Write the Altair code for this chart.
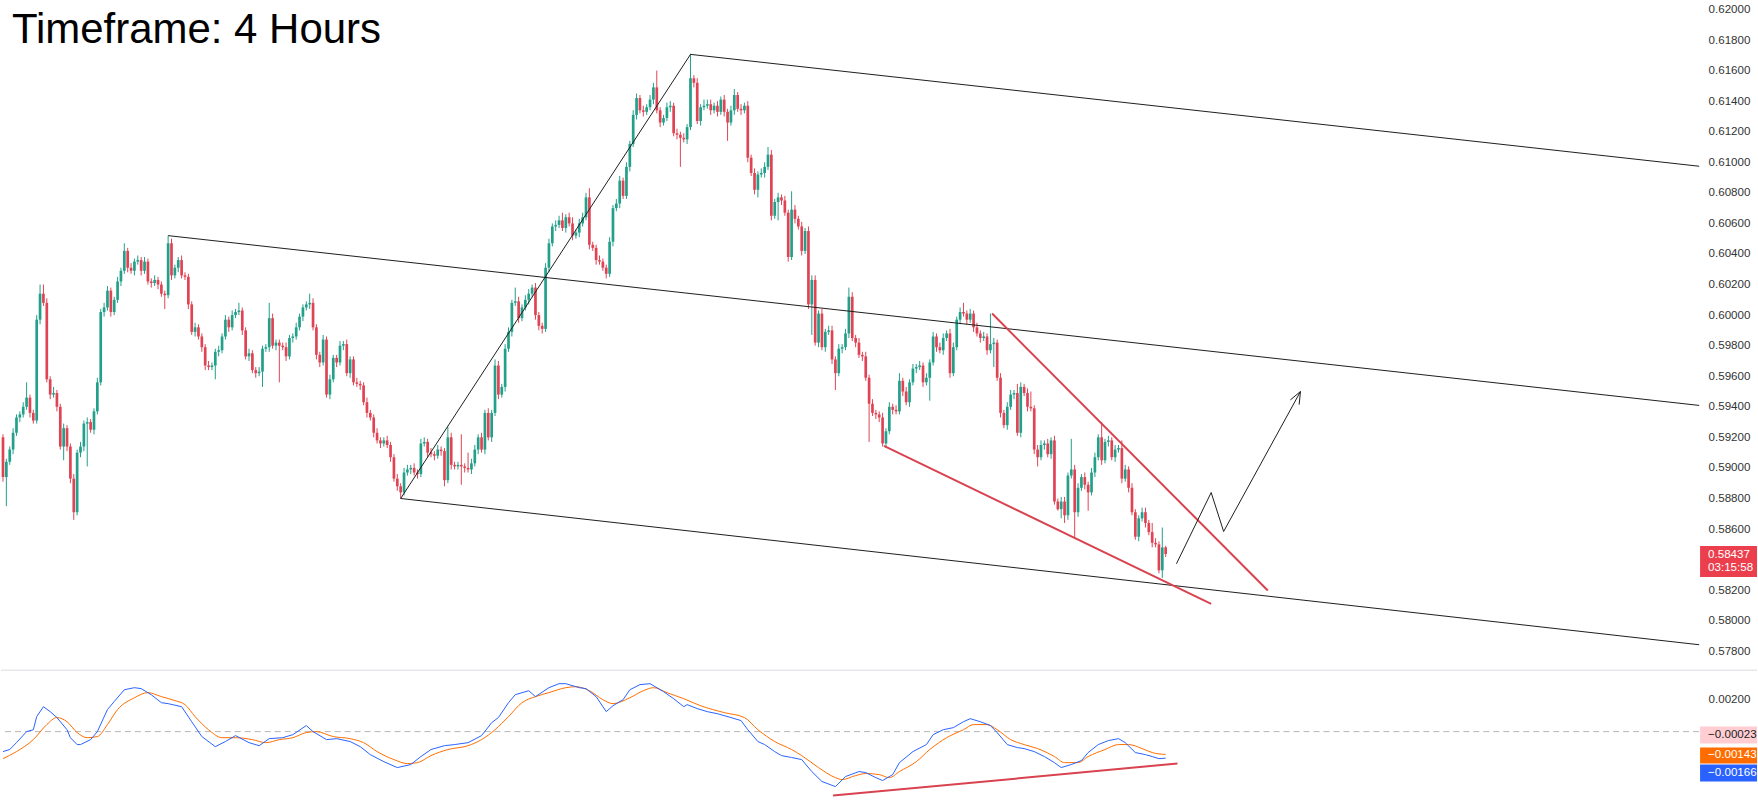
import altair as alt
import pandas as pd

TITLE = "Timeframe: 4 Hours"
COUNTDOWN = "03:15:58"

# ---------------- price data (pips = price x 10000) ----------------
FIRST_OPEN = 5920
CLOSES = [
    5894, 5904, 5912, 5923, 5933, 5935, 5940, 5946, 5936, 5931,
    5997, 6014, 6008, 5958, 5948, 5949, 5940, 5914, 5926, 5914,
    5893, 5871, 5910, 5914, 5929, 5930, 5925, 5937, 5956, 6002,
    6005, 6016, 6002, 6010, 6022, 6029, 6042, 6031, 6029, 6035,
    6036, 6029, 6035, 6022, 6021, 6023, 6020, 6014, 6013, 6047,
    6026, 6031, 6036, 6026, 6025, 6007, 5989, 5992, 5986, 5979,
    5967, 5966, 5967, 5976, 5977, 5986, 5997, 5992, 6000, 6002,
    6003, 5990, 5973, 5975, 5964, 5962, 5963, 5978, 5979, 5998,
    5980, 5982, 5980, 5979, 5973, 5985, 5986, 5992, 5999, 6005,
    6007, 6008, 5992, 5974, 5969, 5984, 5948, 5958, 5972, 5969,
    5980, 5981, 5962, 5971, 5956, 5955, 5954, 5943, 5936, 5933,
    5923, 5918, 5916, 5918, 5915, 5907, 5893, 5888, 5884, 5897,
    5899, 5900, 5897, 5896, 5916, 5917, 5910, 5909, 5908, 5912,
    5911, 5892, 5920, 5902, 5901, 5902, 5901, 5900, 5899, 5903,
    5912, 5920, 5912, 5936, 5920, 5936, 5967, 5948, 5953, 5978,
    5989, 6008, 6009, 5998, 6005, 6010, 6014, 6018, 6000, 5993,
    5991, 6031, 6047, 6058, 6059, 6062, 6057, 6064, 6060, 6052,
    6054, 6060, 6064, 6077, 6046, 6044, 6036, 6035, 6031, 6027,
    6048, 6070, 6073, 6088, 6078, 6097, 6112, 6131, 6142, 6134,
    6133, 6136, 6141, 6149, 6134, 6126, 6129, 6136, 6137, 6119,
    6118, 6116, 6115, 6123, 6155, 6152, 6127, 6136, 6137, 6138,
    6134, 6137, 6133, 6141, 6133, 6126, 6134, 6144, 6135, 6134,
    6137, 6103, 6093, 6082, 6092, 6093, 6097, 6105, 6065, 6074,
    6077, 6075, 6067, 6038, 6069, 6063, 6058, 6042, 6055, 6007,
    6023, 5982, 6001, 5979, 5989, 5990, 5971, 5962, 5978, 5979,
    5988, 6012, 5985, 5982, 5974, 5973, 5959, 5942, 5936, 5935,
    5933, 5916, 5924, 5940, 5938, 5937, 5957, 5950, 5943, 5956,
    5965, 5966, 5967, 5956, 5959, 5969, 5986, 5979, 5977, 5985,
    5988, 5962, 5979, 5997, 6002, 6001, 5997, 6001, 5992, 5988,
    5985, 5986, 5977, 5981, 5982, 5959, 5936, 5928, 5940, 5948,
    5949, 5923, 5953, 5949, 5940, 5939, 5912, 5907, 5915, 5916,
    5909, 5918, 5878, 5873, 5878, 5869, 5895, 5899, 5871, 5887,
    5894, 5889, 5884, 5897, 5907, 5920, 5905, 5917, 5918, 5907,
    5912, 5913, 5893, 5899, 5887, 5871, 5855, 5867, 5871, 5864,
    5858, 5851, 5850, 5833, 5848, 5843.7,
]
UPPER_WICK = [
    2, 2, 2, 3, 2, 2, 3, 10, 2, 2,
    3, 6, 6, 3, 2, 4, 2, 2, 3, 2,
    2, 3, 2, 3, 2, 3, 2, 2, 3, 2,
    3, 3, 2, 2, 3, 2, 5, 2, 3, 2,
    3, 2, 3, 2, 2, 3, 2, 2, 2, 5,
    3, 2, 2, 3, 2, 2, 2, 3, 2, 2,
    2, 3, 2, 2, 3, 2, 3, 2, 3, 2,
    5, 2, 2, 3, 2, 2, 3, 2, 2, 10,
    3, 2, 2, 2, 3, 2, 2, 3, 2, 2,
    2, 6, 3, 2, 2, 3, 2, 3, 2, 2,
    3, 2, 3, 2, 2, 3, 2, 2, 3, 2,
    2, 3, 2, 2, 3, 2, 2, 3, 2, 3,
    3, 2, 3, 2, 3, 3, 2, 3, 2, 3,
    2, 2, 7, 3, 2, 2, 20, 2, 10, 3,
    3, 2, 3, 2, 3, 2, 4, 3, 2, 3,
    3, 2, 9, 3, 2, 3, 3, 2, 3, 2,
    2, 3, 3, 2, 3, 3, 5, 2, 3, 4,
    2, 3, 3, 3, 6, 2, 2, 3, 2, 2,
    3, 2, 3, 3, 2, 3, 2, 3, 3, 2,
    3, 2, 3, 3, 11, 2, 2, 3, 3, 2,
    3, 2, 3, 2, 16, 2, 3, 2, 4, 3,
    3, 2, 3, 2, 3, 2, 3, 4, 2, 3,
    2, 3, 2, 3, 2, 3, 3, 5, 3, 2,
    3, 2, 3, 2, 12, 3, 2, 3, 2, 3,
    3, 3, 2, 3, 2, 3, 3, 2, 3, 2,
    3, 6, 3, 2, 3, 2, 3, 2, 3, 2,
    2, 3, 2, 3, 2, 3, 5, 2, 3, 2,
    3, 2, 3, 2, 3, 2, 3, 2, 3, 3,
    2, 3, 3, 2, 3, 6, 2, 3, 2, 3,
    2, 3, 2, 20, 3, 2, 3, 2, 3, 3,
    2, 6, 3, 2, 3, 10, 2, 3, 3, 2,
    3, 2, 3, 2, 3, 3, 2, 20, 3, 3,
    2, 3, 2, 3, 3, 2, 10, 2, 3, 2,
    3, 2, 5, 3, 2, 3, 2, 2, 3, 3,
    2, 6, 3, 2, 13, 1,
]
LOWER_WICK = [
    3, 19, 2, 3, 2, 3, 2, 2, 3, 2,
    2, 3, 2, 2, 3, 2, 3, 2, 9, 3,
    3, 5, 2, 3, 3, 28, 2, 3, 2, 2,
    3, 2, 3, 2, 2, 3, 2, 3, 2, 3,
    2, 3, 2, 2, 3, 2, 3, 2, 9, 2,
    3, 2, 3, 2, 2, 3, 2, 3, 2, 3,
    3, 2, 2, 9, 3, 2, 2, 3, 2, 2,
    2, 3, 2, 3, 2, 3, 2, 10, 2, 3,
    2, 3, 24, 2, 3, 2, 3, 2, 2, 3,
    2, 3, 2, 3, 3, 2, 2, 3, 2, 3,
    2, 3, 2, 3, 2, 2, 3, 2, 3, 2,
    3, 2, 3, 2, 2, 3, 2, 3, 4, 2,
    2, 3, 2, 3, 2, 2, 3, 2, 3, 2,
    3, 4, 2, 3, 2, 2, 12, 3, 2, 3,
    2, 3, 2, 3, 2, 3, 2, 3, 2, 3,
    2, 3, 2, 3, 2, 2, 3, 2, 3, 3,
    3, 2, 3, 2, 3, 2, 2, 3, 2, 3,
    2, 3, 2, 2, 3, 2, 3, 2, 2, 3,
    2, 3, 2, 3, 2, 2, 3, 2, 3, 2,
    3, 2, 2, 3, 2, 3, 2, 2, 3, 2,
    3, 19, 2, 3, 2, 3, 2, 3, 2, 2,
    3, 2, 3, 2, 3, 12, 2, 3, 2, 3,
    2, 3, 2, 3, 5, 2, 3, 2, 3, 2,
    12, 3, 2, 3, 2, 3, 2, 3, 2, 3,
    20, 2, 3, 2, 3, 2, 3, 11, 2, 3,
    2, 3, 2, 3, 2, 3, 2, 25, 2, 3,
    3, 2, 3, 2, 3, 2, 2, 3, 2, 3,
    2, 3, 2, 3, 2, 15, 2, 3, 2, 3,
    2, 3, 2, 2, 3, 2, 3, 2, 3, 2,
    3, 2, 3, 2, 15, 2, 3, 2, 3, 2,
    3, 2, 3, 2, 3, 2, 3, 6, 2, 3,
    2, 3, 2, 1, 6, 5, 3, 2, 17, 3,
    2, 3, 12, 2, 3, 2, 3, 2, 3, 2,
    3, 2, 3, 2, 3, 2, 2, 3, 2, 3,
    2, 3, 2, 2, 5, 2,
]

PRICE_TICKS = [0.578, 0.580, 0.582, 0.586, 0.588, 0.590, 0.592, 0.594, 0.596,
               0.598, 0.600, 0.602, 0.604, 0.606, 0.608, 0.610, 0.612, 0.614,
               0.616, 0.618, 0.620]
MACD_TICKS = [0.002]

# ---------------- MACD panel (values x 1e-5, x = bar index) ----------------
MACD_IDX = [0, 2, 4, 7, 9, 10, 12, 14, 16, 19, 20, 22, 23, 26, 28, 31, 33, 36, 39, 41,
            44, 47, 49, 53, 56, 59, 63, 66, 69, 73, 76, 79, 83, 86, 90, 92, 96, 99, 103, 106,
            109, 113, 117, 121, 124, 127, 131, 134, 138, 142, 145, 147, 150, 152, 156, 158, 162, 165, 167, 171,
            173, 176, 179, 181, 184, 186, 189, 192, 196, 199, 202, 203, 206, 209, 212, 216, 219, 221, 224, 226,
            229, 231, 234, 237, 240, 243, 247, 250, 254, 256, 259, 261, 264, 266, 270, 274, 276, 279, 282, 285,
            287, 290, 293, 295, 298, 301, 303, 306, 309, 312, 314, 317, 320, 322, 325, 328, 331, 333, 336, 339,
            341, 343, 345]
MACD_VAL = [-125, -112, -69, 0, 12, 94, 156, 125, 88, 12, -38, -81, -81, -50, 0, 138, 188, 262, 275, 269,
            231, 181, 175, 156, 62, -31, -94, -62, -25, -69, -88, -44, -38, -19, 38, 0, -50, -44, -62, -94,
            -144, -188, -225, -206, -156, -112, -88, -81, -69, -25, 56, 88, 181, 231, 256, 219, 275, 300, 300, 275,
            269, 219, 125, 162, 200, 262, 294, 300, 250, 206, 156, 169, 144, 125, 112, 88, 69, 12, -62, -81,
            -125, -150, -162, -175, -250, -312, -344, -281, -250, -256, -288, -306, -269, -194, -125, -81, -19, 12, 25, 62,
            81, 62, 38, -6, -81, -100, -106, -125, -156, -194, -225, -206, -181, -131, -81, -56, -44, -69, -131, -144,
            -156, -169, -166]
SIGNAL_IDX = [0, 4, 9, 13, 16, 19, 22, 25, 28, 31, 34, 39, 43, 47, 51, 54, 57, 61, 65, 69,
              74, 78, 82, 86, 90, 93, 98, 103, 107, 111, 116, 120, 123, 127, 132, 138, 142, 146, 150, 154,
              158, 162, 167, 170, 174, 178, 181, 186, 190, 193, 197, 202, 207, 214, 220, 224, 229, 234, 237, 242,
              247, 249, 253, 256, 260, 263, 266, 271, 275, 280, 285, 288, 292, 295, 299, 303, 307, 312, 315, 319,
              322, 327, 331, 334, 338, 341, 345]
SIGNAL_VAL = [-169, -125, -50, 44, 88, 62, -6, -38, -31, 44, 138, 212, 244, 219, 194, 169, 94, 12, -38, -38,
              -50, -69, -50, -38, -6, 0, -31, -44, -69, -125, -175, -200, -194, -150, -112, -88, -50, 12, 94, 181,
              219, 244, 275, 281, 256, 200, 175, 212, 256, 275, 244, 206, 162, 119, 88, 12, -62, -112, -150, -225,
              -288, -300, -275, -262, -269, -288, -250, -188, -112, -38, 12, 44, 44, 12, -50, -81, -106, -156, -194, -194,
              -156, -112, -81, -81, -106, -131, -143]
LAST_HIST, LAST_SIGNAL, LAST_MACD = -0.00023, -0.00143, -0.00166

# ---------------- drawings: (bar index, price in pips / macd x1e-5) ----------------
CHANNEL_LINES = [
    [(204, 6170.6), (503.3, 6097.4)],
    [(49, 6052.0), (503.3, 5940.9)],
    [(118, 5880.0), (503.3, 5784.3)],
    [(118, 5880.0), (204, 6170.6)],
]
WEDGE_LINES = [
    [(293.5, 6001.0), (375.3, 5819.8)],
    [(261.4, 5914.4), (358.5, 5811.1)],
]
ARROW_PATHS = [
    [(348.2, 5837.3), (358.5, 5883.9), (362.2, 5858.4), (385.0, 5950.0)],
    [(382.0, 5944.5), (385.0, 5950.0), (384.6, 5941.4)],
]
MACD_DIVERGENCE = [[(246.3, -400), (348.5, -200)]]

# ---------------- styles ----------------
UP, DOWN = "#22a08a", "#e04454"
WEDGE_RED = "#d9424f"
LINE_BLACK = "#1e1e1e"
BLUE, ORANGE, PINK = "#2962ff", "#ff6d00", "#ffcdd2"
FONT = "Liberation Sans"
PLOT_W, TOP_H, BOT_H = 1700, 670, 130

n = len(CLOSES)
assert len(UPPER_WICK) == n and len(LOWER_WICK) == n
bar_px = 1164.0 / (n - 1)
xs = alt.Scale(domain=[-2.0 / bar_px, (PLOT_W - 2.0) / bar_px], nice=False, zero=False)
ys = alt.Scale(domain=[0.62 - 661.0 / 15300, 0.62 + 9.0 / 15300], nice=False, zero=False)
ysb = alt.Scale(domain=[-0.00425, 0.003875], nice=False, zero=False)

opens = [FIRST_OPEN] + CLOSES[:-1]
rows = []
for i, (o, c, uw, lw) in enumerate(zip(opens, CLOSES, UPPER_WICK, LOWER_WICK)):
    top, bot = max(o, c), min(o, c)
    btop, bbot = top, bot
    if btop - bbot < 0.6:
        bbot = btop - 0.6
    rows.append(dict(idx=i, x1=i - 0.4, x2=i + 0.4, btop=btop / 1e4, bbot=bbot / 1e4,
                     high=(top + uw) / 1e4, low=(bot - lw) / 1e4,
                     dir="up" if c >= o else "down"))
candles = pd.DataFrame(rows)

color_enc = alt.Color("dir:N", scale=alt.Scale(domain=["up", "down"], range=[UP, DOWN]), legend=None)

AX_TOP = dict(orient="right", values=PRICE_TICKS, format=".5f", labelFont=FONT,
              labelFontSize=11.6, labelColor="#333333", domain=False, ticks=False,
              grid=False, labelPadding=9, title=None, labelOverlap=False)
AX_BOT = dict(AX_TOP, values=MACD_TICKS)


def yt(field):
    return alt.Y(field, scale=ys, axis=alt.Axis(**AX_TOP))


def yb(field):
    return alt.Y(field, scale=ysb, axis=alt.Axis(**AX_BOT))


def seg_df(segs, scale_div):
    r = []
    for s, pts in enumerate(segs):
        for k, (xi, v) in enumerate(pts):
            r.append(dict(seg=s, k=k, idx=xi, val=v / scale_div))
    return pd.DataFrame(r)


def draw_lines(segs, scale_div, ychan, color, width):
    return alt.Chart(seg_df(segs, scale_div)).mark_line(color=color, strokeWidth=width).encode(
        x=alt.X("idx:Q", scale=xs, axis=None),
        y=ychan("val:Q"),
        detail="seg:N", order="k:Q")


wicks = alt.Chart(candles).mark_rule(strokeWidth=1).encode(
    x=alt.X("idx:Q", scale=xs, axis=None),
    y=yt("low:Q"), y2="high:Q", color=color_enc)
bodies = alt.Chart(candles).mark_rect().encode(
    x=alt.X("x1:Q", scale=xs, axis=None), x2="x2:Q",
    y=yt("btop:Q"), y2="bbot:Q", color=color_enc)

title = alt.Chart(pd.DataFrame({"t": [TITLE]})).mark_text(
    align="left", baseline="alphabetic", fontSize=42, font=FONT, color="black").encode(
    text="t:N", x=alt.value(11), y=alt.value(43))

last_price = CLOSES[-1] / 1e4
price_df = pd.DataFrame({"p": [last_price], "lab": [f"{last_price:.5f}"], "cd": [COUNTDOWN]})
price_box = alt.Chart(price_df).mark_rect(color="#eb3f4e", yOffset=-8, y2Offset=23).encode(
    x=alt.value(1701), x2=alt.value(1758), y=yt("p:Q"), y2="p:Q")
price_txt = alt.Chart(price_df).mark_text(align="left", baseline="middle", dy=1, font=FONT,
                                          fontSize=11.6, color="white").encode(
    x=alt.value(1709), y=yt("p:Q"), text="lab:N")
cd_txt = alt.Chart(price_df).mark_text(align="left", baseline="middle", dy=14, font=FONT,
                                       fontSize=11.6, color="white").encode(
    x=alt.value(1709), y=yt("p:Q"), text="cd:N")

top = alt.layer(
    wicks, bodies,
    draw_lines(CHANNEL_LINES, 1e4, yt, LINE_BLACK, 1),
    draw_lines(WEDGE_LINES, 1e4, yt, WEDGE_RED, 2),
    draw_lines(ARROW_PATHS, 1e4, yt, LINE_BLACK, 1),
    title, price_box, price_txt, cd_txt,
).properties(width=PLOT_W, height=TOP_H)

# ---------------- bottom panel ----------------
sep = alt.Chart(pd.DataFrame({"a": [0]})).mark_rule(color="#dcdde2", strokeWidth=1).encode(
    x=alt.value(0), x2=alt.value(1758), y=alt.value(0.5))
zero = alt.Chart(pd.DataFrame({"z": [0.0]})).mark_rule(
    color="#b5b5b5", strokeWidth=1, strokeDash=[6, 4]).encode(y=yb("z:Q"))
macd_df = pd.DataFrame({"idx": MACD_IDX, "v": [v / 1e5 for v in MACD_VAL]})
sig_df = pd.DataFrame({"idx": SIGNAL_IDX, "v": [v / 1e5 for v in SIGNAL_VAL]})
macd_line = alt.Chart(macd_df).mark_line(color=BLUE, strokeWidth=1).encode(
    x=alt.X("idx:Q", scale=xs, axis=None), y=yb("v:Q"))
sig_line = alt.Chart(sig_df).mark_line(color=ORANGE, strokeWidth=1, interpolate="monotone").encode(
    x=alt.X("idx:Q", scale=xs, axis=None), y=yb("v:Q"))
div_line = draw_lines(MACD_DIVERGENCE, 1e5, yb, WEDGE_RED, 2)


def fmt(v):
    return ("\u2212" if v < 0 else "") + f"{abs(v):.5f}"


boxes = []
for val, fill, tcol, o1, o2, dy in [
    (LAST_HIST, PINK, "#222222", -8.7, 8.3, 0),
    (LAST_SIGNAL, ORANGE, "white", -6.9, 9.1, 1),
    (LAST_MACD, BLUE, "white", 6.4, 23.4, 15),
]:
    d = pd.DataFrame({"v": [val], "lab": [fmt(val)]})
    boxes.append(alt.Chart(d).mark_rect(color=fill, yOffset=o1, y2Offset=o2).encode(
        x=alt.value(1701), x2=alt.value(1758), y=yb("v:Q"), y2="v:Q"))
    boxes.append(alt.Chart(d).mark_text(align="left", baseline="middle", dy=dy, font=FONT,
                                        fontSize=11.6, color=tcol).encode(
        x=alt.value(1709), y=yb("v:Q"), text="lab:N"))

bottom = alt.layer(zero, sep, sig_line, macd_line, div_line, *boxes).properties(
    width=PLOT_W, height=BOT_H)

chart = alt.vconcat(top, bottom, spacing=0).properties(
    padding={"left": 0, "top": 0, "right": 0, "bottom": 0}, background="white"
).configure_view(strokeWidth=0)

chart.save("out.html", embed_options={"renderer": "svg", "actions": False})
